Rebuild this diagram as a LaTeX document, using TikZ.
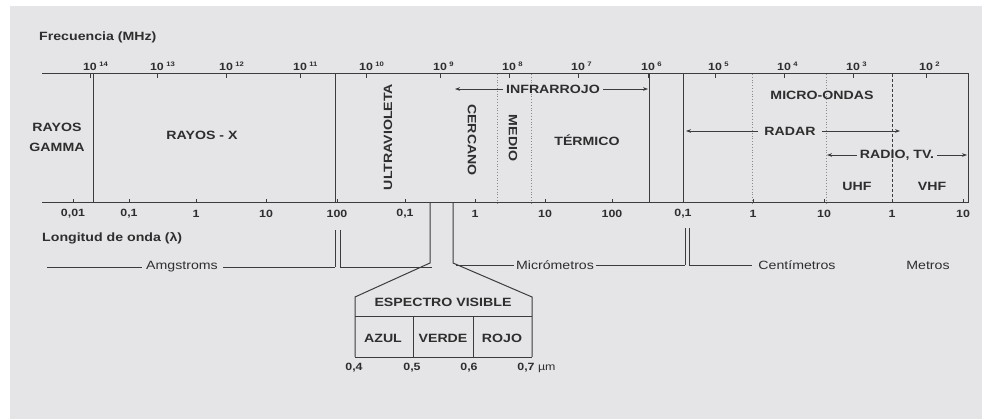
\documentclass[tikz,border=0pt]{standalone}
\usepackage{fontspec}
\setmainfont{Liberation Sans}[FakeStretch=1.18]
\usetikzlibrary{arrows.meta}
\definecolor{bg}{HTML}{E5E5E7}
\definecolor{txt}{HTML}{2E2E2E}
\definecolor{lc}{HTML}{3C3C3C}
\definecolor{dc}{HTML}{8A8A8A}
\begin{document}
\begin{tikzpicture}[x=1pt,y=-1pt,
 lab/.style={font=\fontsize{12}{13}\selectfont\bfseries, text=txt, inner sep=0pt},
 num/.style={font=\fontsize{10.5}{12}\selectfont\bfseries, text=txt, inner sep=0pt},
 unit/.style={font=\fontsize{12}{13}\selectfont, text=txt, inner sep=0pt},
 ln/.style={draw=lc, line width=1pt},
 thin/.style={draw=lc, line width=0.7pt},
 dotl/.style={draw=dc, line width=0.8pt, dotted},
 dashl/.style={draw=lc, line width=0.8pt, densely dashed},
 arr/.style={draw=lc, line width=0.7pt, -{Stealth[length=5pt,width=3.6pt]}},
]
\fill[white] (0,0) rectangle (985,419);
\fill[bg] (10,6) rectangle (982,419);

% frame
\draw[ln] (42,74) -- (968,74) -- (968,203) -- (42,203);
\foreach \x in {93,335,649,683} \draw[ln] (\x,74) -- (\x,203);
\foreach \x in {497,531,752,826} \draw[dotl] (\x,74) -- (\x,203);
\draw[dashl] (892,74) -- (892,203);

% ticks
\foreach \x in {90,157,226,300,366,440,509,578,648,715,784,853,926} \draw[thin] (\x,74) -- (\x,78);
\foreach \x in {73,129,196,266,337,405,475,545,612,683,753,824,892,963} \draw[thin] (\x,203) -- (\x,199);

% frequency labels
\node[lab, anchor=west] (freq) at (39,37) {Frecuencia (MHz)};
\foreach \x/\e in {90/14,157/13,226/12,300/11,366/10,440/9,509/8,578/7,648/6,715/5,784/4,853/3,926/2}
  \node[num] (f\e) at (\x,66.5) {10\rlap{\hspace{2.5pt}\raisebox{4.5pt}{\fontsize{6.5}{7}\selectfont\e}}};

% wavelength labels
\foreach \x/\t [count=\i] in {73/{0,01},129/{0,1},196/1,266/10,337/100,405/{0,1},475/1,545/10,612/100,683/{0,1},753/1,824/10,892/1,963/10}
  \node[num] (w\i) at (\x,214) {\t};
\node[lab, anchor=west] (lon) at (42,238) {Longitud de onda (λ)};

% region labels
\node[lab, align=center] (gam) at (57,137) {RAYOS\\[7pt]GAMMA};
\node[lab] (rx) at (202,135) {RAYOS - X};
\node[lab, rotate=90] (uv) at (388,137) {ULTRAVIOLETA};
\node[lab, rotate=-90] (cer) at (472,140) {CERCANO};
\node[lab, rotate=-90] (med) at (513,138) {MEDIO};
\node[lab] (ter) at (587,140) {TÉRMICO};
\node[lab] (ir) at (553,89) {INFRARROJO};
\node[lab] (mo) at (822,95) {MICRO-ONDAS};
\node[lab] (rad) at (790,131) {RADAR};
\node[lab] (rtv) at (897,155) {RADIO, TV.};
\node[lab] (uhf) at (857,186) {UHF};
\node[lab] (vhf) at (932,186) {VHF};

\coordinate (irL) at (455,89);
\coordinate (irR) at (648,89);
\coordinate (radL) at (686,131);
\coordinate (radR) at (900,131);
\coordinate (rtvL) at (827,155);
\coordinate (rtvR) at (967,155);
\draw[arr] ([xshift=-3pt]ir.west) -- (irL);
\draw[arr] ([xshift=3pt]ir.east) -- (irR);
\draw[arr] ([xshift=-6pt]rad.west) -- (radL);
\draw[arr] ([xshift=6pt]rad.east) -- (radR);
\draw[arr] ([xshift=-3pt]rtv.west) -- (rtvL);
\draw[arr] ([xshift=3pt]rtv.east) -- (rtvR);

% units line
\node[unit] (amg) at (182,267) {Amgstroms};
\node[unit] (mic) at (555,265) {Micrómetros};
\node[unit] (cen) at (797,265) {Centímetros};
\node[unit] (met) at (928,265) {Metros};
\draw[thin] (47,267) -- ([xshift=-4pt]amg.west);
\draw[thin] ([xshift=5pt]amg.east) -- (335,267);
\draw[thin] (335,230) -- (335,267);
\draw[thin] (340,230) -- (340,267) -- (432,267);
\draw[thin] (456,265) -- ([xshift=-2pt]mic.west);
\draw[thin] ([xshift=2pt]mic.east) -- (685,265);
\draw[thin] (685,228) -- (685,265);
\draw[thin] (689,228) -- (689,265) -- ([xshift=-6pt]cen.west);

% visible spectrum
\draw[ln] (430,203) -- (430,263) -- (355,297) -- (355,357);
\draw[ln] (453,203) -- (453,263) -- (532,297) -- (532,357);
\draw[thin] (355,316) -- (532,316);
\draw[thin] (355,357) -- (532,357);
\draw[thin] (413,316) -- (413,357);
\draw[thin] (473,316) -- (473,357);
\node[lab] (esp) at (443,302) {ESPECTRO VISIBLE};
\node[lab] (az) at (383,338) {AZUL};
\node[lab] (ve) at (443,338) {VERDE};
\node[lab] (ro) at (502,338) {ROJO};
\node[num] (v4) at (354,368) {0,4};
\node[num] (v5) at (412,368) {0,5};
\node[num] (v6) at (469,368) {0,6};
\node[num] (v7) at (526,368) {0,7\rlap{ \fontseries{m}\selectfont µm}};
\end{tikzpicture}
\end{document}
